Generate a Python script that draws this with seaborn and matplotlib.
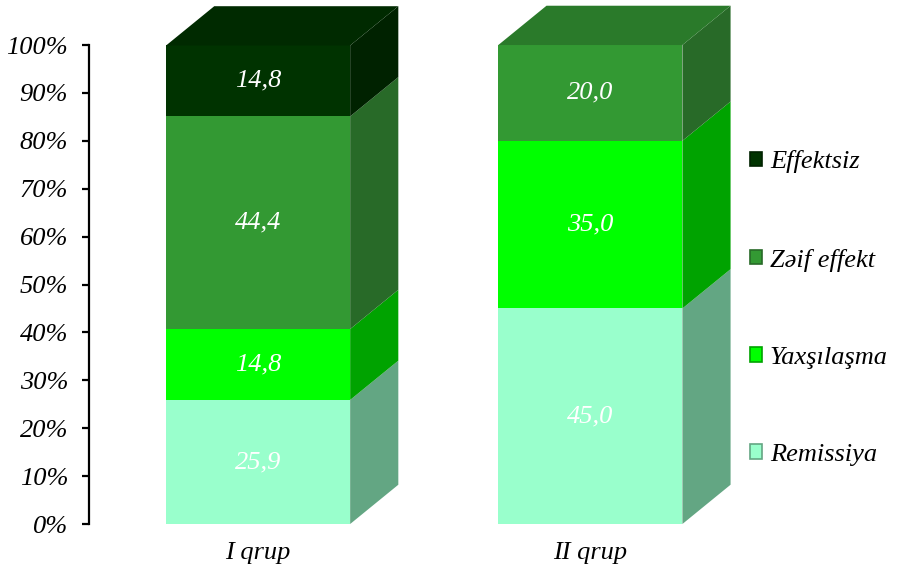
import matplotlib
matplotlib.use("Agg")
import matplotlib.pyplot as plt
import seaborn as sns
import pandas as pd
import numpy as np
from matplotlib.patches import Polygon, Patch

groups = ["I qrup", "II qrup"]
series = ["Remissiya", "Yaxşılaşma", "Zəif effekt", "Effektsiz"]
remissiya = [25.9, 45.0]
yaxsilasma = [14.8, 35.0]
zeif = [44.4, 20.0]
effektsiz = [14.8, 0.0]
values = [remissiya, yaxsilasma, zeif, effektsiz]
yticks = [0, 10, 20, 30, 40, 50, 60, 70, 80, 90, 100]

front_colors = ["#99FFCC", "#00FF00", "#339933", "#003300"]
side_colors = ["#63A683", "#00A300", "#286A28", "#002200"]
top_colors = ["#88EEBB", "#00CC00", "#2A7A2A", "#002A00"]

sns.set_theme(style="white")
plt.rcParams['font.family'] = ['Liberation Serif', 'FreeSerif', 'DejaVu Serif']
plt.rcParams['font.style'] = 'italic'
plt.rcParams['text.color'] = 'black'
plt.rcParams['xtick.color'] = 'black'
plt.rcParams['ytick.color'] = 'black'

FS = 19

fig = plt.figure(figsize=(8.99, 5.74), dpi=100)
ax = fig.add_axes([0.099, 0.0871, 0.724, 479 / 574 * 1.09])

cums = np.cumsum(np.array(values), axis=0)
width = 0.554
bar_layers = []
for i in range(len(series) - 1, -1, -1):
    n_before = len(ax.patches)
    sns.barplot(x=groups, y=cums[i], color=front_colors[i], saturation=1,
                width=width, errorbar=None, ax=ax, linewidth=0)
    bar_layers.append((i, ax.patches[n_before:]))

ax.set_xlim(-0.509, 1.45)
ax.set_ylim(0, 109)

dx = 0.145
dy = 8.2

layer_patches = {i: p for i, p in bar_layers}
for g in range(len(groups)):
    p = layer_patches[0][g]
    xl = p.get_x()
    xr = xl + p.get_width()
    bottom = 0.0
    last_nonzero = 0
    for i in range(len(series)):
        v = values[i][g]
        if v <= 0:
            continue
        top = bottom + v
        side = Polygon([(xr, bottom), (xr + dx, bottom + dy), (xr + dx, top + dy), (xr, top)],
                       closed=True, facecolor=side_colors[i], edgecolor='none', zorder=3)
        ax.add_patch(side)
        ax.text((xl + xr) / 2, bottom + v / 2, f"{v:.1f}".replace(".", ","),
                ha='center', va='center', color='white', fontsize=FS, style='italic', zorder=5)
        last_nonzero = i
        bottom = top
    topface = Polygon([(xl, bottom), (xl + dx, bottom + dy), (xr + dx, bottom + dy), (xr, bottom)],
                      closed=True, facecolor=top_colors[last_nonzero], edgecolor='none', zorder=3)
    ax.add_patch(topface)

ax.set_yticks(yticks)
ax.set_yticklabels([f"{t}%" for t in yticks], fontsize=FS, style='italic', color='black')
ax.set_xticks(range(len(groups)))
ax.set_xticklabels(groups, fontsize=FS, style='italic', color='black')
ax.set_xlabel("")
ax.set_ylabel("")
for s in ["top", "right", "bottom"]:
    ax.spines[s].set_visible(False)
ax.spines["left"].set_bounds(0, 100)
ax.spines["left"].set_linewidth(1.6)
ax.spines["left"].set_color("black")
ax.tick_params(axis='y', direction='out', length=5, width=1.6, color='black', pad=10, left=True)
ax.tick_params(axis='x', length=0, pad=13)

handles = [Patch(facecolor=front_colors[i], edgecolor=side_colors[i], linewidth=1.2, label=series[i])
           for i in range(len(series) - 1, -1, -1)]
leg = fig.legend(handles=handles, loc='center left', bbox_to_anchor=(0.834, 0.463),
                 frameon=False, handlelength=0.46, handleheight=0.46,
                 handletextpad=0.3, labelspacing=2.85, borderpad=0, borderaxespad=0,
                 prop={'style': 'italic', 'size': FS})
for t in leg.get_texts():
    t.set_color('black')

fig.savefig("out.png", dpi=100)
